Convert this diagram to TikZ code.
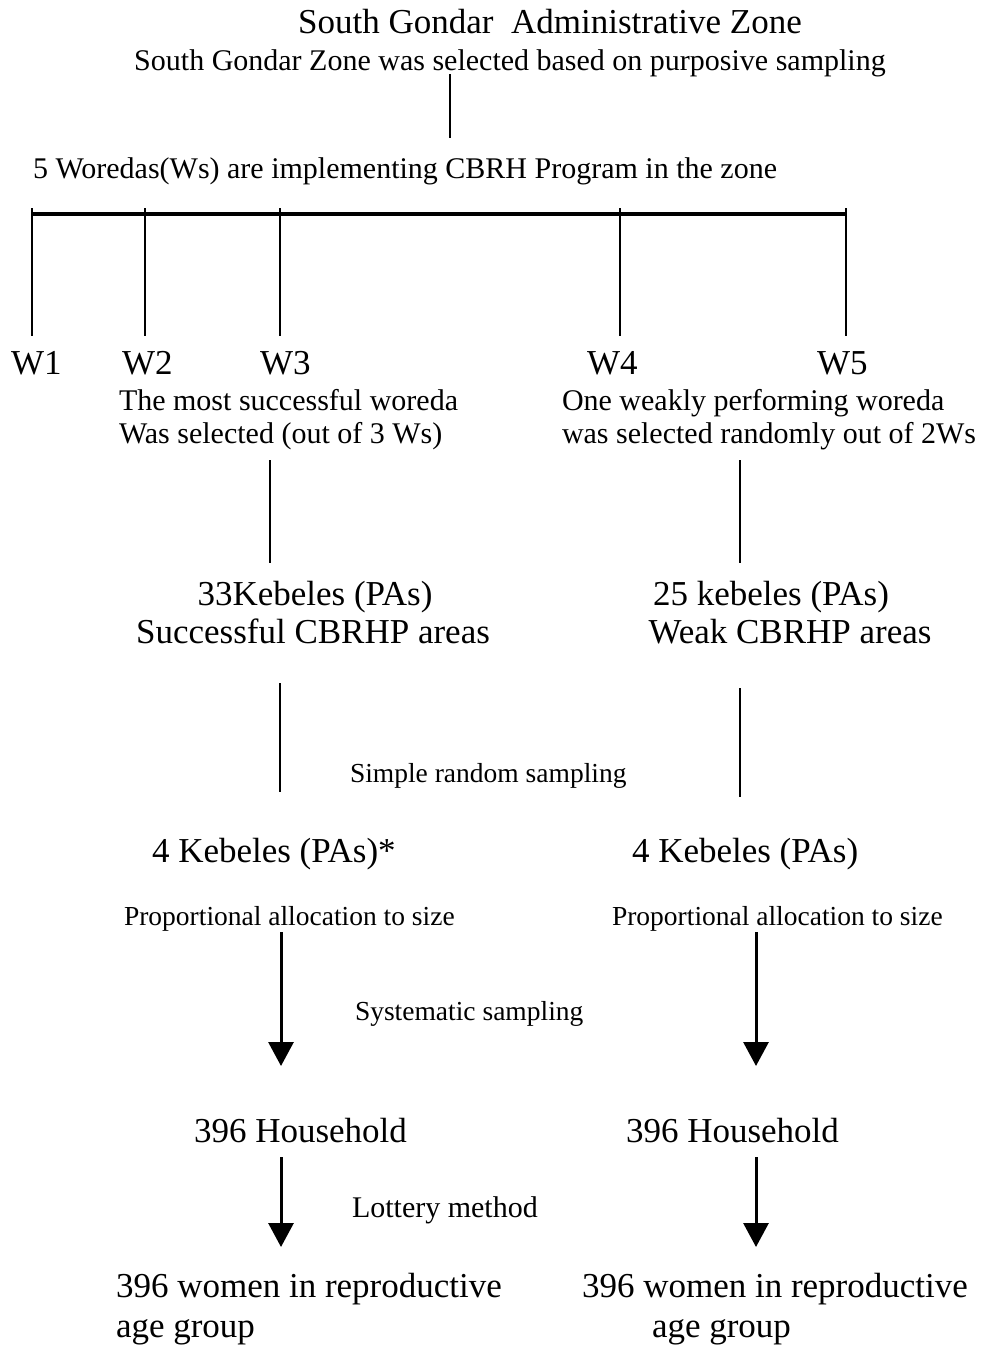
\documentclass[tikz,border=0pt]{standalone}
\usepackage{fontspec}
\setmainfont{Liberation Serif}
\usetikzlibrary{arrows.meta}
\begin{document}
\begin{tikzpicture}[x=1pt,y=-1pt,
  txt/.style={inner sep=0pt,outer sep=0pt},
  big/.style={txt,font=\fontsize{35}{42}\selectfont},
  mid/.style={txt,font=\fontsize{30}{36}\selectfont},
  sml/.style={txt,font=\fontsize{27.5}{33}\selectfont},
  thin/.style={line width=1.6pt},
  bar/.style={line width=4pt},
  flow/.style={line width=3pt,-{Triangle[length=24pt,width=25pt]}}]
\useasboundingbox (0,0) rectangle (982,1347);
% title
\node[big,anchor=base] (title) at (550,33) {South Gondar\ \ Administrative Zone};
\node[mid,anchor=base] (sub) at (510,70) {South Gondar Zone was selected based on purposive sampling};
\coordinate (s1) at (450,74);
\coordinate (s2) at (450,138);
\draw[thin] (s1) -- (s2);
\node[mid,anchor=base west] (five) at (33,178) {5 Woredas(Ws) are implementing CBRH Program in the zone};
% bar and ticks
\coordinate (b1) at (32,214);
\coordinate (b5) at (846,214);
\draw[bar] (b1) -- (b5);
\foreach \n/\x in {1/32,2/145,3/280,4/620,5/846}{
  \coordinate (t\n a) at (\x,208);
  \coordinate (t\n b) at (\x,336);
  \draw[thin] (t\n a) -- (t\n b);
}
\node[big,anchor=base west] (w1) at (11,374) {W1};
\node[big,anchor=base west] (w2) at (122,374) {W2};
\node[big,anchor=base west] (w3) at (260,374) {W3};
\node[big,anchor=base west] (w4) at (587,374) {W4};
\node[big,anchor=base west] (w5) at (817,374) {W5};
% selection texts
\node[mid,anchor=base west] (l1) at (119,410) {The most successful woreda};
\node[mid,anchor=base west] (l2) at (119,443) {Was selected (out of 3 Ws)};
\node[mid,anchor=base west] (r1) at (562,410) {One weakly performing woreda};
\node[mid,anchor=base west] (r2) at (562,443) {was selected randomly out of 2Ws};
\coordinate (la) at (270,460);
\coordinate (lb) at (270,563);
\draw[thin] (la) -- (lb);
\coordinate (ra) at (740,460);
\coordinate (rb) at (740,563);
\draw[thin] (ra) -- (rb);
% kebeles
\node[big,anchor=base] (k33) at (315,605) {33Kebeles (PAs)};
\node[big,anchor=base] (succ) at (313,643) {Successful CBRHP areas};
\node[big,anchor=base] (k25) at (771,605) {25 kebeles (PAs)};
\node[big,anchor=base] (weak) at (790,643) {Weak CBRHP areas};
\coordinate (lc) at (280,683);
\coordinate (ld) at (280,792);
\draw[thin] (lc) -- (ld);
\coordinate (rc) at (740,688);
\coordinate (rd) at (740,797);
\draw[thin] (rc) -- (rd);
\node[sml,anchor=base west] (srs) at (350,782) {Simple random sampling};
\node[big,anchor=base west] (k4l) at (152,862) {4 Kebeles (PAs)*};
\node[big,anchor=base west] (k4r) at (632,862) {4 Kebeles (PAs)};
\node[sml,anchor=base west] (pal) at (124,925) {Proportional allocation to size};
\node[sml,anchor=base west] (par) at (612,925) {Proportional allocation to size};
% arrows
\coordinate (a1) at (281,932);
\coordinate (a2) at (281,1066);
\draw[flow] (a1) -- (a2);
\coordinate (a3) at (756,932);
\coordinate (a4) at (756,1066);
\draw[flow] (a3) -- (a4);
\node[sml,anchor=base west] (sys) at (355,1020) {Systematic sampling};
\node[big,anchor=base west] (hhl) at (194,1142) {396 Household};
\node[big,anchor=base west] (hhr) at (626,1142) {396 Household};
\coordinate (a5) at (281,1157);
\coordinate (a6) at (281,1247);
\draw[flow] (a5) -- (a6);
\coordinate (a7) at (756,1157);
\coordinate (a8) at (756,1247);
\draw[flow] (a7) -- (a8);
\node[mid,anchor=base west] (lot) at (352,1217) {Lottery method};
\node[big,anchor=base west] (wl1) at (116,1297) {396 women in reproductive};
\node[big,anchor=base west] (wl2) at (116,1337) {age group};
\node[big,anchor=base west] (wr1) at (582,1297) {396 women in reproductive};
\node[big,anchor=base west] (wr2) at (652,1337) {age group};
\end{tikzpicture}
\end{document}
